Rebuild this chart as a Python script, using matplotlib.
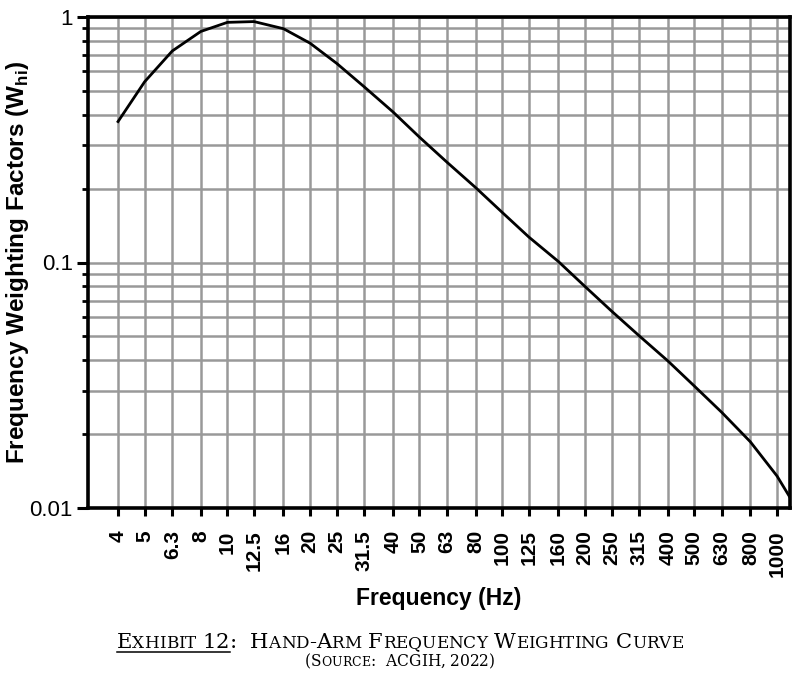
import matplotlib
matplotlib.use("Agg")
import matplotlib.pyplot as plt
from matplotlib.ticker import FixedLocator, NullFormatter, LogLocator, NullLocator

plt.rcParams['font.family'] = ['Liberation Sans', 'DejaVu Sans']
plt.rcParams['mathtext.fontset'] = 'custom'
plt.rcParams['mathtext.bf'] = 'Liberation Sans:bold'
plt.rcParams['mathtext.rm'] = 'Liberation Sans'

# Data (1/3-octave band centre frequencies and weighting factors)
freq = [4, 5, 6.3, 8, 10, 12.5, 16, 20, 25, 31.5, 40, 50, 63, 80, 100, 125,
        160, 200, 250, 315, 400, 500, 630, 800, 1000, 1250]
weight = [0.375, 0.545, 0.727, 0.873, 0.951, 0.958, 0.896, 0.782, 0.647, 0.519,
          0.411, 0.324, 0.256, 0.202, 0.160, 0.127, 0.101, 0.0799, 0.0634,
          0.0503, 0.0398, 0.0314, 0.0245, 0.0186, 0.0135, 0.00894]
tick_freqs = [4, 5, 6.3, 8, 10, 12.5, 16, 20, 25, 31.5, 40, 50, 63, 80, 100,
              125, 160, 200, 250, 315, 400, 500, 630, 800, 1000]
tick_labels = ['4', '5', '6.3', '8', '10', '12.5', '16', '20', '25', '31.5', '40',
               '50', '63', '80', '100', '125', '160', '200', '250', '315', '400',
               '500', '630', '800', '1000']
y_ticks = [0.01, 0.1, 1]
y_tick_labels = ['0.01', '0.1', '1']

fig = plt.figure(figsize=(8, 6.81), dpi=100)
ax = fig.add_axes([88/800, 1-508/681, (790-88)/800, (508-17)/681])

ax.plot(freq, weight, color='black', lw=2.0, solid_joinstyle='round', zorder=3)
ax.set_xscale('log')
ax.set_yscale('log')
ax.set_xlim(3.11, 1115)
ax.set_ylim(0.01, 1)

ax.xaxis.set_major_locator(FixedLocator(tick_freqs))
ax.xaxis.set_minor_locator(NullLocator())
ax.set_xticklabels(tick_labels, rotation=90, fontsize=15, fontweight='bold')
ax.yaxis.set_major_locator(FixedLocator(y_ticks))
ax.set_yticklabels(y_tick_labels, fontsize=16)
ax.yaxis.set_minor_locator(LogLocator(base=10, subs=range(2, 10)))
ax.yaxis.set_minor_formatter(NullFormatter())

ax.grid(True, which='both', axis='y', color='#999999', lw=1.8)
ax.grid(True, which='major', axis='x', color='#999999', lw=1.8)
ax.set_axisbelow(True)

ax.tick_params(axis='x', which='major', direction='out', length=6, width=2.2, pad=10)
ax.tick_params(axis='y', which='major', direction='out', length=8, width=2.2, pad=3)
ax.tick_params(axis='y', which='minor', direction='out', length=4, width=2.0)
for s in ax.spines.values():
    s.set_linewidth(2.6)
    s.set_color('black')

ax.set_xlabel('Frequency (Hz)', fontsize=16.5, fontweight='bold')
ax.xaxis.set_label_coords(0.5, -0.161)
ax.set_ylabel(r'Frequency Weighting Factors (W$_{\mathbf{hi}}$)', fontsize=17.5,
              fontweight='bold')
ax.yaxis.set_label_coords(-0.081, 0.5)

# Small-caps caption
renderer = fig.canvas.get_renderer()

def smallcaps(text, yc, big, small, family='DejaVu Serif', underline_chars=0):
    runs = []
    for i, ch in enumerate(text):
        if ch.islower():
            runs.append((ch.upper(), small, i))
        else:
            runs.append((ch, big, i))
    objs = []
    total = 0
    for ch, size, i in runs:
        t = fig.text(0, yc, ch, fontsize=size, family=family, va='baseline',
                     ha='left', transform=None)
        w = t.get_window_extent(renderer).width
        if ch == ' ':
            w = size * 0.32 * 100 / 72
        objs.append((t, w, i))
        total += w
    x = (fig.bbox.width - total) / 2
    ul_start = x
    ul_end = x
    for t, w, i in objs:
        t.set_position((x, yc))
        if i < underline_chars:
            ul_end = x + w
        x += w
    if underline_chars:
        fig.add_artist(plt.Line2D([ul_start, ul_end], [yc - 4, yc - 4],
                                  color='black', lw=1.1, transform=None))

smallcaps('Exhibit 12:  Hand-Arm Frequency Weighting Curve', 681 - 648, 15.2, 12.2,
          underline_chars=10)
smallcaps('(Source:  ACGIH, 2022)', 681 - 666, 11.2, 8.9)

fig.savefig('out.png', dpi=100)
